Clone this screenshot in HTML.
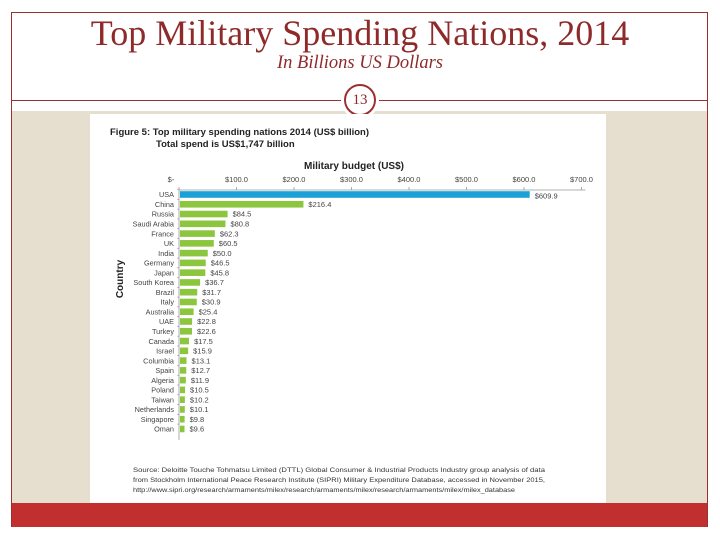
<!DOCTYPE html>
<html><head><meta charset="utf-8">
<style>
html,body{margin:0;padding:0;background:#fff;}
body{width:720px;height:540px;position:relative;overflow:hidden;font-family:"Liberation Sans",sans-serif;}
#frame{position:absolute;left:11px;top:12px;width:697px;height:515px;border:1px solid #9b3030;box-sizing:border-box;}
#title{position:absolute;left:0;width:720px;top:12px;text-align:center;font-family:"Liberation Serif",serif;font-size:36px;color:#8e2a2a;}
#subtitle{position:absolute;left:0;width:720px;top:53px;text-align:center;font-family:"Liberation Serif",serif;font-style:italic;font-size:18.5px;color:#8e2a2a;}
#rule{position:absolute;left:11px;width:697px;top:100px;height:1px;background:#9b3030;}
#beige{position:absolute;left:12px;width:695px;top:111px;height:392px;background:#e6dfcf;}
#red{position:absolute;left:12px;width:695px;top:503px;height:24px;background:#c1302f;}
#num{position:absolute;left:344px;top:84px;width:32px;height:32px;border-radius:50%;border:2px solid #9b3030;background:#fff;box-sizing:border-box;text-align:center;font-family:"Liberation Serif",serif;font-size:15px;line-height:28px;color:#8e2a2a;box-shadow:0 0 0 3px #fff;}
#card{position:absolute;left:90px;top:114px;width:516px;height:389px;background:#fff;}
</style></head><body>
<div id="frame"></div>
<div id="title">Top Military Spending Nations, 2014</div>
<div id="subtitle">In Billions US Dollars</div>
<div id="rule"></div>
<div id="beige"></div>
<div id="red"></div>
<div id="num">13</div>
<div id="card">
<svg id="chart" width="516" height="389" xmlns="http://www.w3.org/2000/svg"></svg>
</div>
<script>
const countries=["USA","China","Russia","Saudi Arabia","France","UK","India","Germany","Japan","South Korea","Brazil","Italy","Australia","UAE","Turkey","Canada","Israel","Columbia","Spain","Algeria","Poland","Taiwan","Netherlands","Singapore","Oman"];
const values=[609.9,216.4,84.5,80.8,62.3,60.5,50.0,46.5,45.8,36.7,31.7,30.9,25.4,22.8,22.6,17.5,15.9,13.1,12.7,11.9,10.5,10.2,10.1,9.8,9.6];
const ticks=[0,100,200,300,400,500,600,700];
const tickLabels=["$-","$100.0","$200.0","$300.0","$400.0","$500.0","$600.0","$700.0"];

const svg=document.getElementById('chart');
const NS="http://www.w3.org/2000/svg";
const x0=89,x1=491.5,xMax=700;
const xs=v=>x0+(v/xMax)*(x1-x0);
const yTop=80.5,step=9.77;
const ys=i=>yTop+i*step;
function mk(tag,attrs,text){const e=document.createElementNS(NS,tag);for(const k in attrs)e.setAttribute(k,attrs[k]);if(text!==undefined)e.textContent=text;svg.appendChild(e);return e;}
let t;
t=mk('text',{x:20,y:21,'font-size':9.5,'font-weight':'bold',fill:'#222'},'Figure 5: Top military spending nations 2014 (US$ billion)');


t=mk('text',{x:66,y:33,'font-size':9.5,'font-weight':'bold',fill:'#222'},'Total spend is US$1,747 billion');


t=mk('text',{x:264,y:55,'font-size':10,'font-weight':'bold','text-anchor':'middle',fill:'#222'},'Military budget (US$)');


t=mk('text',{x:0,y:0,'font-size':10,'font-weight':'bold','text-anchor':'middle',fill:'#222',transform:'translate(33,165) rotate(-90)'},'Country');


let a=mk('line',{x1:x0,y1:76,x2:x1+4,y2:76,stroke:'#999','stroke-width':0.8});


a=mk('line',{x1:x0,y1:76,x2:x0,y2:326,stroke:'#999','stroke-width':0.8});


ticks.forEach((v,i)=>{
  const tk=mk('line',{x1:xs(v),y1:73,x2:xs(v),y2:76,stroke:'#999','stroke-width':0.8});
  
  
  const tl=mk('text',{x:xs(v)-(i==0?8:0),y:68,'font-size':7.5,'text-anchor':'middle',fill:'#444'},tickLabels[i]);
  
  
});
countries.forEach((c,i)=>{
  const y=ys(i);
  const b=mk('rect',{x:x0+1,y:y-3.3,width:xs(values[i])-x0-1,height:6.6,fill:i==0?'#1ba1d8':'#8cc63f'});
  
  
  const l=mk('text',{x:x0-5,y:y+2.7,'font-size':7.3,'text-anchor':'end',fill:'#444'},c);
  
  
  const vl=mk('text',{x:xs(values[i])+5,y:y+(i==0?4:2.7),'font-size':7.5,fill:'#444'},'$'+values[i].toFixed(1));
  
  
  const tk=mk('line',{x1:x0-2,y1:y-step/2,x2:x0,y2:y-step/2,stroke:'#999','stroke-width':0.6});
  
  
});
const src=["Source: Deloitte Touche Tohmatsu Limited (DTTL) Global Consumer & Industrial Products Industry group analysis of data","from Stockholm International Peace Research Institute (SIPRI) Military Expenditure Database, accessed in November 2015,","http://www.sipri.org/research/armaments/milex/research/armaments/milex/research/armaments/milex/milex_database"];
src.forEach((s,i)=>{
  const e=mk('text',{x:43,y:358+i*10,'font-size':6.6,fill:'#333',textLength:i==2?382:412,lengthAdjust:'spacingAndGlyphs'},s);
  
  
});
</script>
</body></html>
